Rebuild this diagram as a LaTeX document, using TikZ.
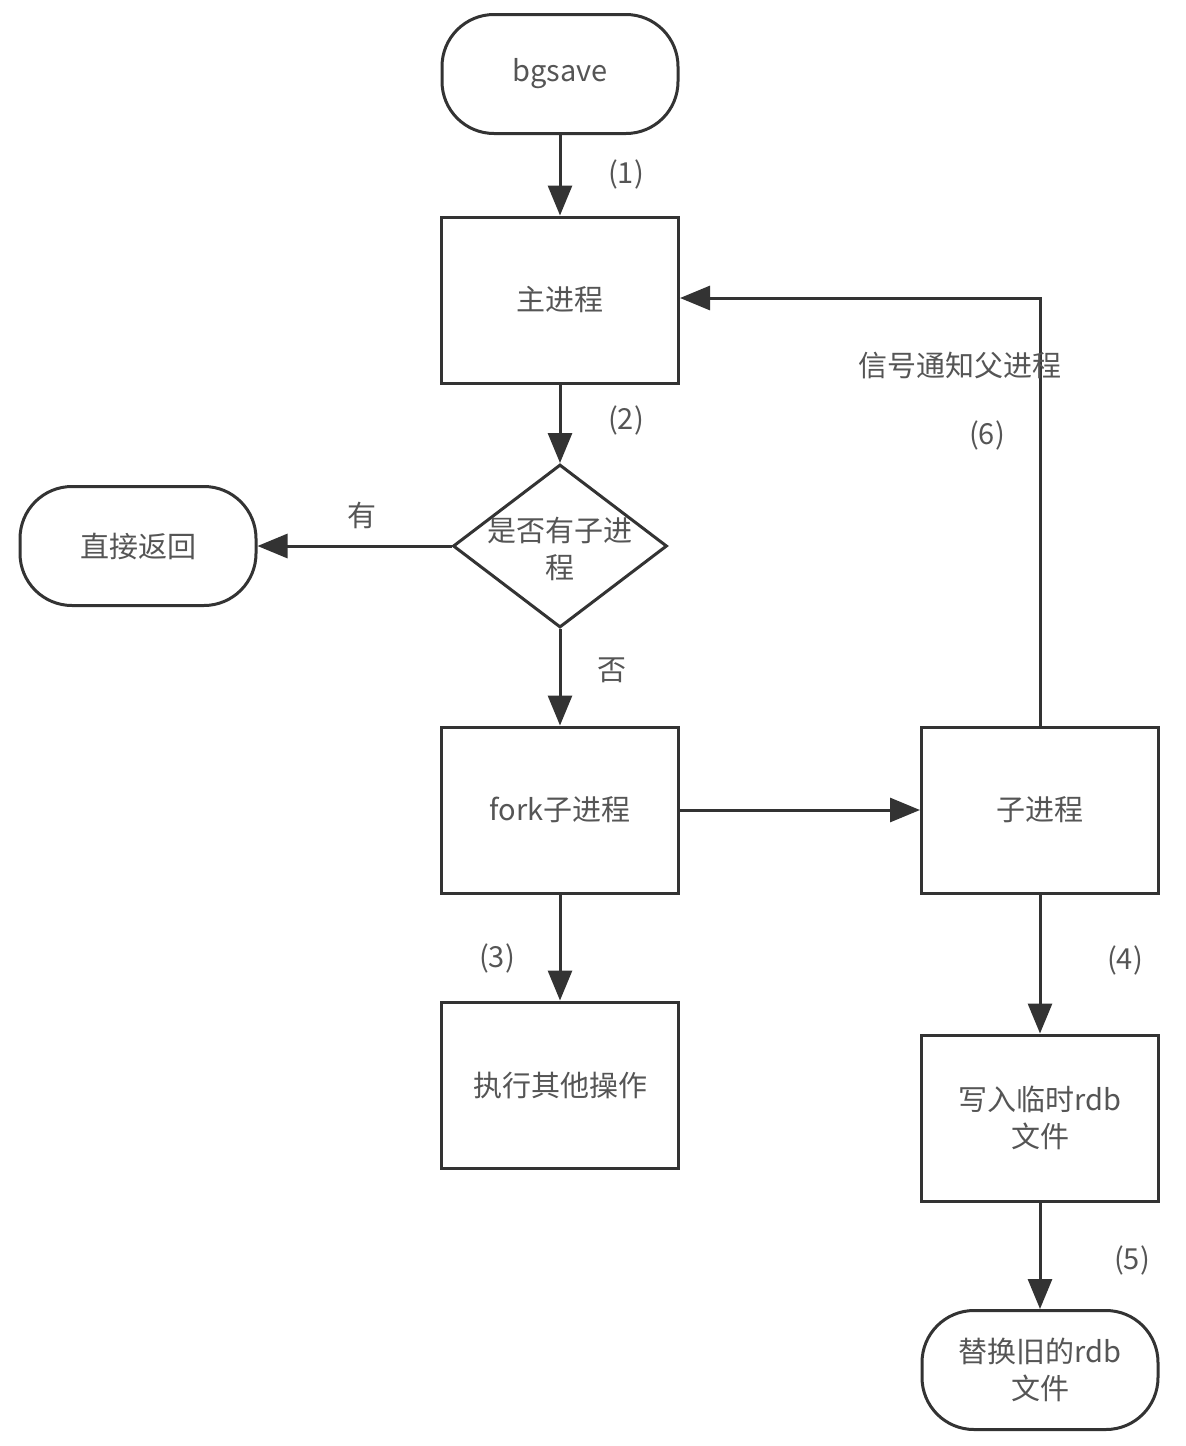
\documentclass[tikz,border=0pt]{standalone}
\usepackage{fontspec}
\setmainfont{Noto Sans CJK SC}
\usetikzlibrary{arrows.meta,shapes.geometric}
\definecolor{linec}{HTML}{333333}
\definecolor{textc}{HTML}{555555}
\begin{document}
\begin{tikzpicture}[x=1pt,y=-1pt,
  every node/.style={font=\fontsize{29}{37}\selectfont, text=textc},
  procbox/.style={draw=linec, line width=3pt, rectangle, minimum width=237pt, minimum height=166pt, inner sep=0pt, align=center},
  termbox/.style={draw=linec, line width=3pt, rectangle, rounded corners=52pt, minimum width=236pt, minimum height=119pt, inner sep=0pt, align=center},
  decbox/.style={draw=linec, line width=3pt, diamond, minimum width=214pt, minimum height=163pt, inner sep=0pt},
  flow/.style={draw=linec, line width=3pt, -{Triangle[length=30pt,width=24pt]}},
  lbl/.style={inner sep=0pt}
]
\useasboundingbox (0,0) rectangle (1186,1446);
\fill[white] (0,0) rectangle (1186,1446);

\node[termbox] (bg) at (560,74) {bgsave};
\node[procbox] (main) at (560,300) {主进程};
\node[decbox] (dec) at (560,546) {};
\node[lbl, align=center] (dectext) at (560,549) {是否有子进\\程};
\node[termbox] (ret) at (138,546) {直接返回};
\node[procbox] (fork) at (560,810) {fork子进程};
\node[procbox] (other) at (560,1085) {执行其他操作};
\node[procbox] (child) at (1040,810) {子进程};
\node[procbox] (write) at (1040,1118) {写入临时rdb\\文件};
\node[termbox] (repl) at (1040,1370) {替换旧的rdb\\文件};

\draw[flow] (bg) -- (main);
\draw[flow] (main) -- (dec);
\draw[flow] (dec.west) -- (ret);
\draw[flow] (dec.south) -- (fork);
\draw[flow] (fork) -- (other);
\draw[flow] (fork) -- (child);
\draw[flow] (child) -- (write);
\draw[flow] (write) -- (repl);
\coordinate (turn) at (1040,298);
\draw[flow] (child.north) -- (turn) -- (main.east |- turn);

\node[lbl] (l1) at (626,174) {(1)};
\node[lbl] (l2) at (626,420) {(2)};
\node[lbl] (lyes) at (362,515) {有};
\node[lbl] (lno) at (612,670) {否};
\node[lbl] (l3) at (497,958) {(3)};
\node[lbl] (l4) at (1125,960) {(4)};
\node[lbl] (l5) at (1132,1260) {(5)};
\node[lbl] (l6) at (987,435) {(6)};
\node[lbl] (lsig) at (960,366) {信号通知父进程};
\end{tikzpicture}
\end{document}
